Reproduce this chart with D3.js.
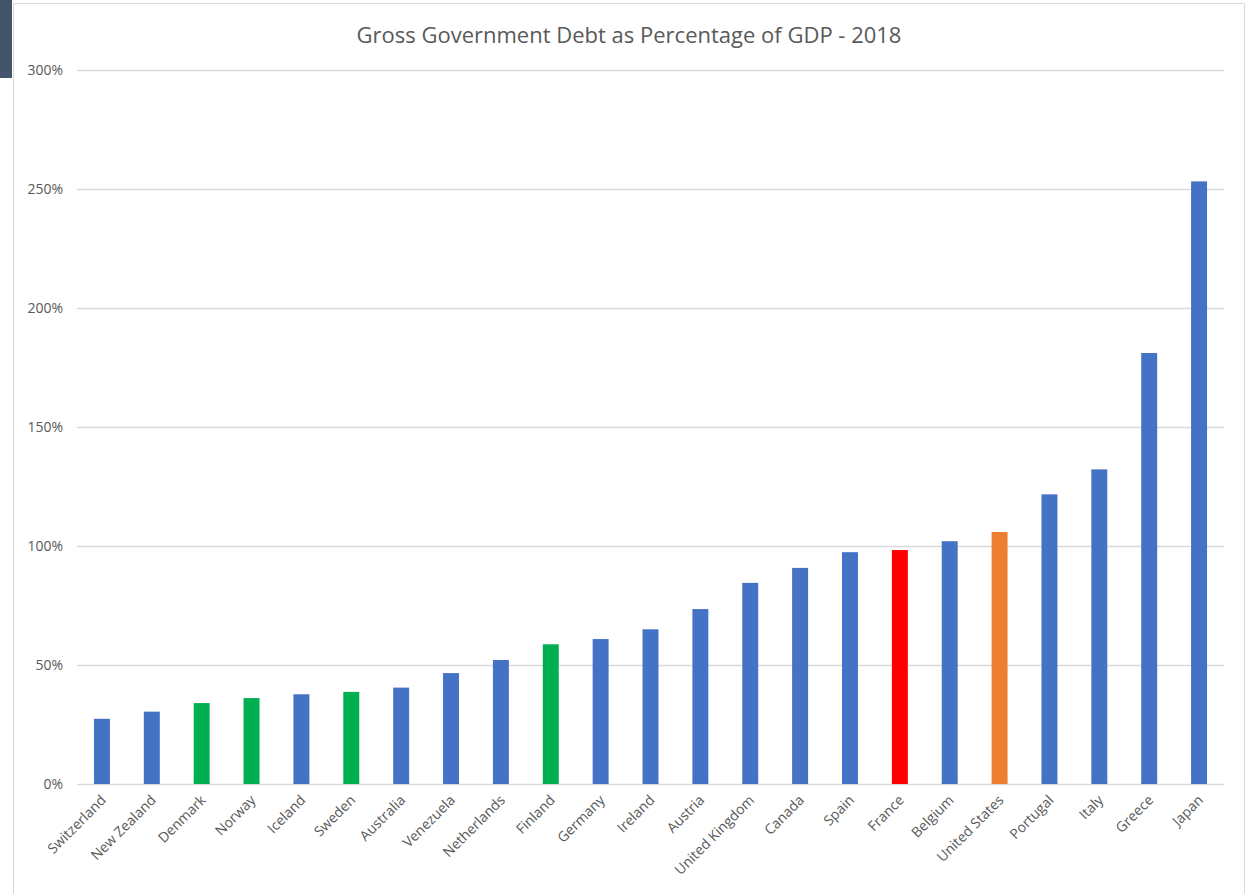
<!DOCTYPE html>
<html>
<head>
<meta charset="utf-8">
<script src="https://cdn.jsdelivr.net/npm/d3@7"></script>
<style>
  html, body { margin: 0; padding: 0; background: #fff; }
  svg { display: block; }
  text { font-family: "Open Sans", "Noto Sans", sans-serif; fill: #595959; }
</style>
</head>
<body>
<svg id="chart" width="1247" height="894"></svg>
<script>
const title = "Gross Government Debt as Percentage of GDP - 2018";
const countries = ["Switzerland","New Zealand","Denmark","Norway","Iceland","Sweden","Australia","Venezuela","Netherlands","Finland","Germany","Ireland","Austria","United Kingdom","Canada","Spain","France","Belgium","United States","Portugal","Italy","Greece","Japan"];
const debtPct = [27.4,30.4,34.0,36.1,37.7,38.7,40.5,46.6,52.1,58.7,60.9,65.0,73.5,84.5,90.8,97.4,98.3,102.0,105.9,121.7,132.2,181.1,253.2];
const group = ["other","other","nordic","nordic","other","nordic","other","other","other","nordic","other","other","other","other","other","other","france","other","us","other","other","other","other"];
const yTicks = [0,50,100,150,200,250,300];

const colors = {other:"#4472C4", nordic:"#00B050", france:"#FF0000", us:"#ED7D31"};

const svg = d3.select("#chart");

// frame
svg.append("rect").attr("x",0).attr("y",0).attr("width",12).attr("height",78).attr("fill","#44546A");
svg.append("path").attr("d","M13.5,894 V3.5 H1244.5 V894").attr("fill","none").attr("stroke","#D9D9D9").attr("stroke-width",1);

const plotLeft = 77, plotRight = 1224, plotTop = 70, plotBottom = 784;
const x = d3.scaleBand().domain(countries).range([plotLeft, plotRight]).paddingInner(0.68).paddingOuter(0.34);
const y = d3.scaleLinear().domain([0,300]).range([plotBottom, plotTop]);

// gridlines
svg.append("g").selectAll("line").data(yTicks).join("line")
  .attr("x1", plotLeft).attr("x2", plotRight)
  .attr("y1", d => Math.round(y(d)) + 0.5).attr("y2", d => Math.round(y(d)) + 0.5)
  .attr("stroke", "#D9D9D9").attr("stroke-width", 1.3);

// y labels
const yAxis = d3.axisLeft(y).tickValues(yTicks).tickFormat(d => d + "%").tickSize(0).tickPadding(0);
const yg = svg.append("g").attr("transform", `translate(${63},0)`).call(yAxis);
yg.select(".domain").remove();
yg.selectAll("text").attr("font-size", 14).attr("fill", "#595959").style("font-family", '"Open Sans", sans-serif');

// bars
svg.append("g").selectAll("rect").data(countries).join("rect")
  .attr("x", d => x(d))
  .attr("width", x.bandwidth())
  .attr("y", (d,i) => y(debtPct[i]))
  .attr("height", (d,i) => plotBottom - y(debtPct[i]))
  .attr("fill", (d,i) => colors[group[i]]);

// x labels
const xAxis = d3.axisBottom(x).tickSize(0).tickPadding(0);
const xg = svg.append("g").attr("transform", `translate(0,${plotBottom})`).call(xAxis);
xg.select(".domain").remove();
xg.selectAll("text")
  .attr("font-size", 14)
  .attr("fill", "#595959")
  .style("font-family", '"Open Sans", sans-serif')
  .attr("text-anchor", "end")
  .attr("dy", null)
  .attr("y", 0)
  .attr("transform", "translate(5,17) rotate(-45)");

// title
svg.append("text").attr("x", 629).attr("y", 43).attr("text-anchor", "middle")
  .attr("font-size", 22).attr("fill", "#595959").text(title);
</script>
</body>
</html>
